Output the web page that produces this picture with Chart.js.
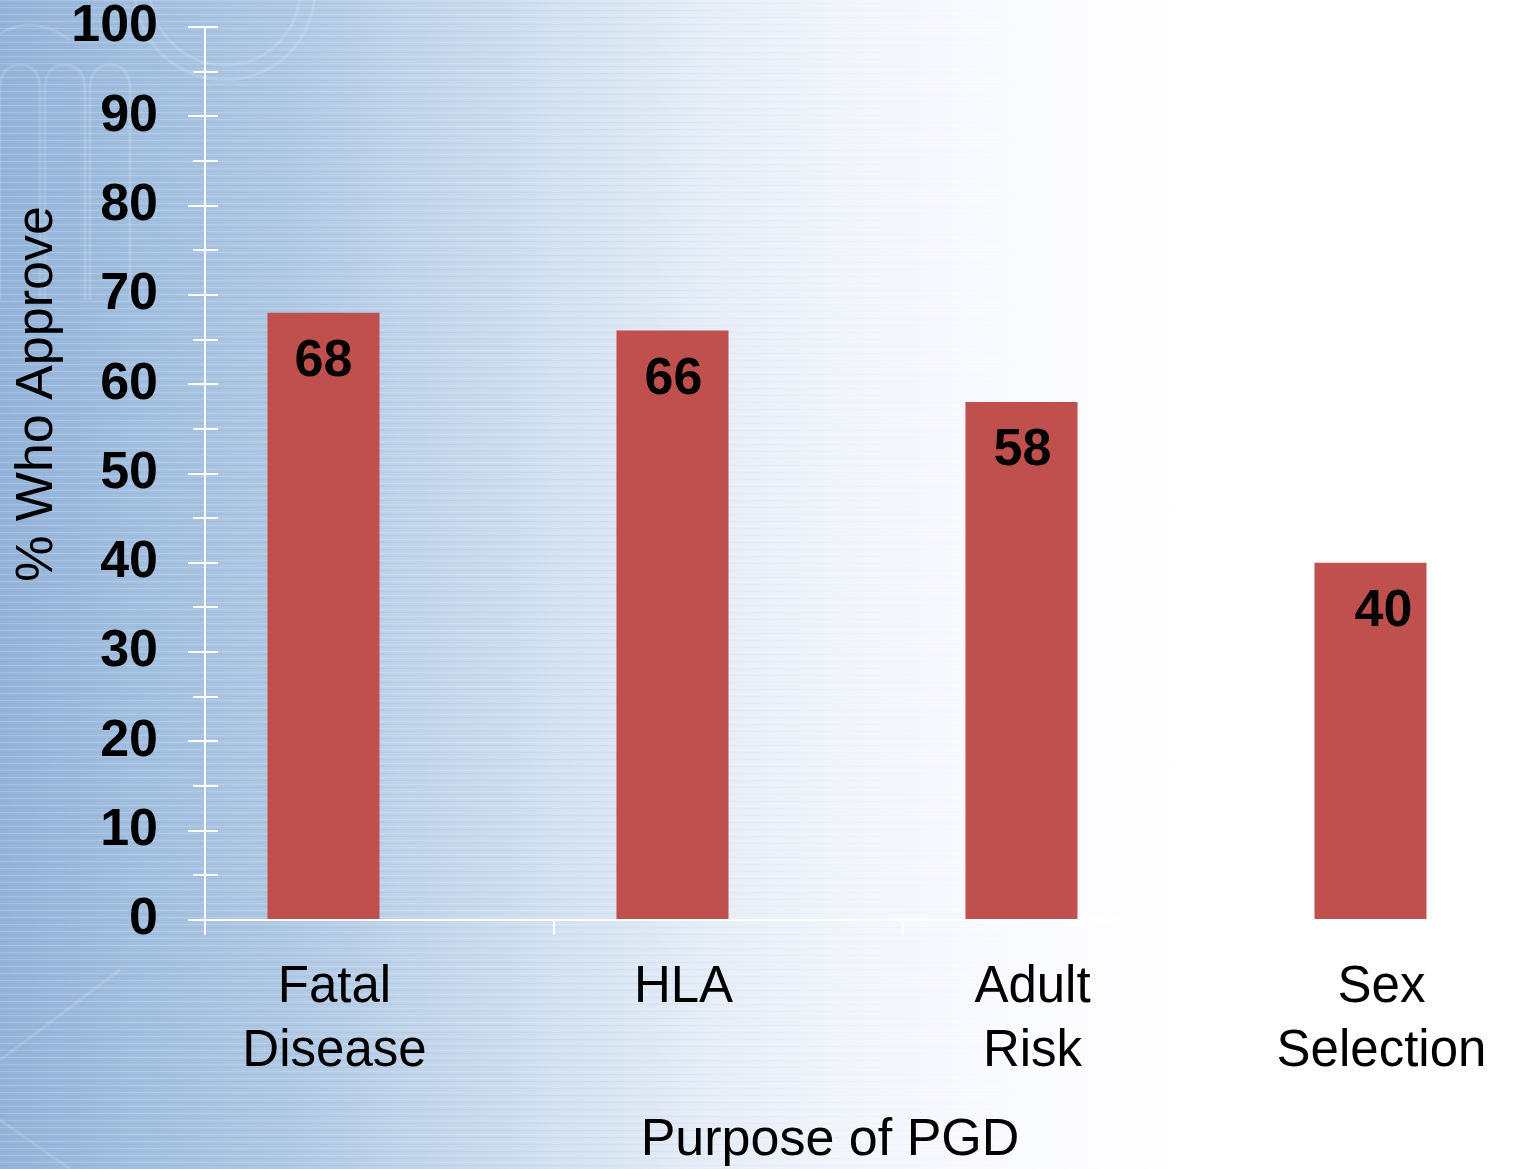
<!DOCTYPE html>
<html>
<head>
<meta charset="utf-8">
<title>Purpose of PGD</title>
<script src="https://cdn.jsdelivr.net/npm/chart.js@4.4.1/dist/chart.umd.min.js"></script>
<style>
  html, body { margin: 0; padding: 0; }
  body {
    width: 1522px; height: 1169px; overflow: hidden; position: relative;
    background: linear-gradient(to right,
      #93b3d8 0px, #a1bedf 120px, #afc8e4 280px, #c3d6eb 430px,
      #d6e3f1 580px, #e7eef8 720px, #f3f6fc 860px, #f9fafe 1000px, #fdfdff 1100px, #ffffff 1200px);
  }
  #streaks {
    position: absolute; left: 0; top: 0; width: 1522px; height: 1169px;
    background: repeating-linear-gradient(to bottom,
      rgba(255,255,255,0.16) 0px, rgba(255,255,255,0.16) 1px,
      rgba(255,255,255,0) 1px, rgba(255,255,255,0) 3px,
      rgba(60,100,150,0.06) 3px, rgba(60,100,150,0.06) 4px,
      rgba(255,255,255,0) 4px, rgba(255,255,255,0) 7px);
    -webkit-mask-image: linear-gradient(to right, #000 0px, #000 500px, transparent 1100px);
    mask-image: linear-gradient(to right, #000 0px, #000 500px, transparent 1100px);
  }
  #ornament { position: absolute; left: 0; top: 0; }
  #wrap { position: absolute; left: 0; top: 0; width: 1620px; height: 1169px; }
  canvas { display: block; }
</style>
</head>
<body>
<div id="streaks"></div>
<svg id="ornament" width="420" height="1169" viewBox="0 0 420 1169">
  <g fill="none" stroke="#ffffff" stroke-opacity="0.14" stroke-width="3">
    <circle cx="225" cy="-10" r="75"/>
    <circle cx="225" cy="-10" r="90"/>
    <path d="M-10 40 Q 30 10 70 40"/>
    <path d="M0 300 L0 90 Q 0 65 20 65 Q 40 65 40 90 L40 300"/>
    <path d="M45 300 L45 90 Q 45 65 65 65 Q 85 65 85 90 L85 300"/>
    <path d="M90 300 L90 90 Q 90 65 110 65 Q 130 65 130 90 L130 300"/>
    <path d="M0 1060 L120 970"/>
    <path d="M0 1120 L70 1169"/>
  </g>
</svg>
<div id="wrap"><canvas id="chart" width="1620" height="1169"></canvas></div>
<script>
// Share of respondents who approve of each purpose of PGD
const categories = [['Fatal', 'Disease'], 'HLA', ['Adult', 'Risk'], ['Sex', 'Selection']];
const approvePct = [68, 66, 58, 40];
// empty second series: keeps each bar in the left part of its group
const spacerSeries = [null, null, null, null];

const yMin = 0;
const yMax = 100;
const yMajorStep = 10;
const yMinorStep = 5;

const yTitle = '% Who Approve';
const xTitle = 'Purpose of PGD';

const FONT = '"Liberation Sans", Arial, Helvetica, sans-serif';
Chart.defaults.font.family = FONT;

// white cross-style axes, tick marks, axis titles and value labels
const axisDecor = {
  id: 'axisDecor',
  afterDatasetsDraw(chart, args, opts) {
    const ctx = chart.ctx;
    const { left, bottom } = chart.chartArea;
    const ys = chart.scales.y;
    const xs = chart.scales.x;
    ctx.save();
    ctx.strokeStyle = '#ffffff';
    ctx.lineWidth = 2;
    ctx.lineCap = 'butt';

    // vertical axis line, running a little below the baseline
    ctx.beginPath();
    ctx.moveTo(left, ys.getPixelForValue(yMax));
    ctx.lineTo(left, bottom + 15);
    ctx.stroke();

    // horizontal axis line
    const half = (xs.getPixelForValue(1) - xs.getPixelForValue(0)) / 2;
    const xEnd = xs.getPixelForValue(categories.length - 1) + half;
    ctx.beginPath();
    ctx.moveTo(left - 17, bottom);
    ctx.lineTo(xEnd, bottom);
    ctx.stroke();

    // major and minor value ticks crossing the axis
    for (let v = yMin; v <= yMax; v += yMinorStep) {
      const py = Math.round(ys.getPixelForValue(v));
      const major = v % yMajorStep === 0;
      ctx.beginPath();
      ctx.moveTo(left - (major ? 17 : 12), py);
      ctx.lineTo(left + 13, py);
      ctx.stroke();
    }

    // category boundary ticks below the axis
    for (let i = 1; i <= categories.length; i++) {
      const px = Math.round(xs.getPixelForValue(i - 1) + half);
      ctx.beginPath();
      ctx.moveTo(px, bottom);
      ctx.lineTo(px, bottom + 15);
      ctx.stroke();
    }

    // value labels inside the top of each bar
    const meta = chart.getDatasetMeta(0);
    ctx.fillStyle = '#000';
    ctx.font = 'bold 52px ' + FONT;
    ctx.textAlign = 'center';
    ctx.textBaseline = 'middle';
    meta.data.forEach((bar, i) => {
      const dx = (opts.valueLabelDx && opts.valueLabelDx[i]) || 0;
      ctx.fillText(String(approvePct[i]), bar.x + dx, bar.y + 49);
    });

    // axis titles
    ctx.font = '52px ' + FONT;
    ctx.save();
    ctx.translate(opts.yTitleX, opts.yTitleY);
    ctx.rotate(-Math.PI / 2);
    ctx.fillText(yTitle, 0, 0);
    ctx.restore();
    ctx.textBaseline = 'alphabetic';
    ctx.fillText(xTitle, opts.xTitleX, opts.xTitleBaseline);
    ctx.restore();
  }
};

// fixed axis sizes so the plot area sits where the axes are drawn
function pinScale(scale, size) {
  if (scale.isHorizontal()) scale.height = size; else scale.width = size;
  scale.paddingTop = 0;
  scale.paddingBottom = 0;
  scale.paddingLeft = 0;
  scale.paddingRight = 0;
}

new Chart(document.getElementById('chart'), {
  type: 'bar',
  data: {
    labels: categories,
    datasets: [
      {
        label: '% Who Approve',
        data: approvePct,
        backgroundColor: '#C0504D',
        borderWidth: 0,
        categoryPercentage: 0.642,
        barPercentage: 1.0
      },
      {
        label: '',
        data: spacerSeries,
        backgroundColor: 'rgba(0,0,0,0)',
        borderWidth: 0,
        categoryPercentage: 0.642,
        barPercentage: 1.0
      }
    ]
  },
  options: {
    responsive: false,
    animation: false,
    layout: { padding: { top: 27, right: 19, left: 0, bottom: 0 } },
    plugins: {
      legend: { display: false },
      tooltip: { enabled: false },
      title: { display: false },
      axisDecor: {
        valueLabelDx: [0, 1, 1, 13],
        yTitleX: 38, yTitleY: 394,
        xTitleX: 830, xTitleBaseline: 1155
      }
    },
    scales: {
      x: {
        offset: true,
        grid: { display: false, drawTicks: false },
        border: { display: false },
        ticks: {
          color: '#000',
          font: { size: 51, lineHeight: 1.25 },
          padding: 36,
          labelOffset: -45,
          maxRotation: 0,
          autoSkip: false
        },
        afterFit(scale) { pinScale(scale, 249); }
      },
      y: {
        min: yMin,
        max: yMax,
        grid: { display: false, drawTicks: false },
        border: { display: false },
        ticks: {
          stepSize: yMajorStep,
          color: '#000',
          font: { size: 52, weight: 'bold', lineHeight: 1 },
          padding: 47
        },
        afterFit(scale) { pinScale(scale, 205); }
      }
    }
  },
  plugins: [axisDecor]
});
</script>
</body>
</html>
